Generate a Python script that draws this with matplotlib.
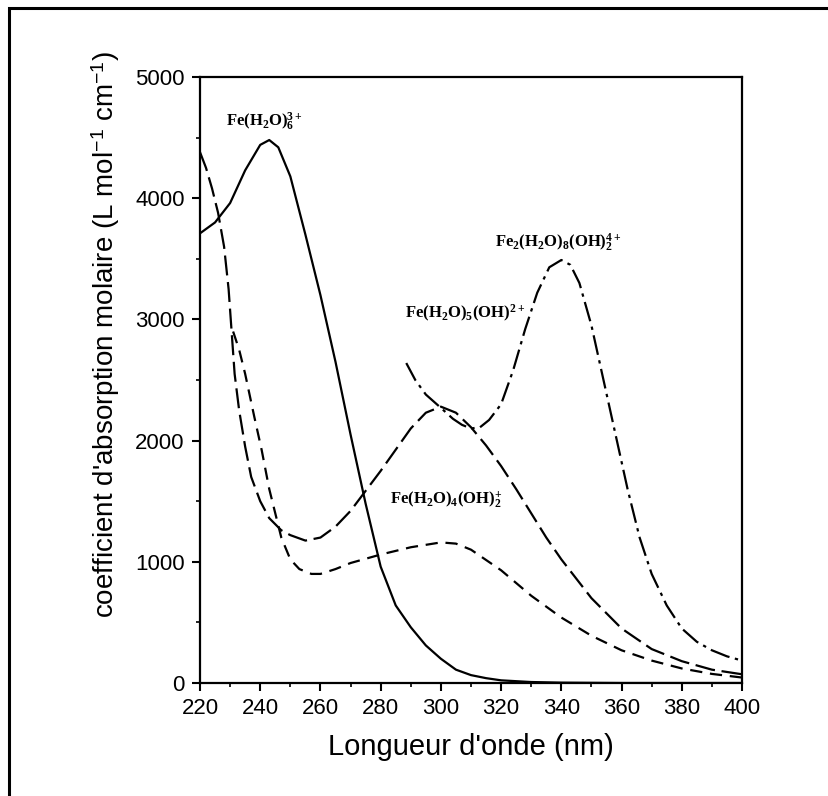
import matplotlib
matplotlib.use('Agg')
import matplotlib.pyplot as plt
from matplotlib.patches import Rectangle
import numpy as np

plt.rcParams['font.family'] = 'Liberation Sans'
plt.rcParams['mathtext.fontset'] = 'custom'
plt.rcParams['mathtext.rm'] = 'Liberation Serif:bold'
plt.rcParams['mathtext.it'] = 'Liberation Serif:bold'
plt.rcParams['mathtext.bf'] = 'Liberation Serif:bold'
plt.rcParams['mathtext.sf'] = 'Liberation Sans'

# Fe(H2O)6 3+  (solid)
wl_hexa = [220, 225, 230, 235, 240, 243, 246, 250, 255, 260, 265, 270, 275, 280,
           285, 290, 295, 300, 305, 310, 315, 320, 330, 340, 360, 400]
eps_hexa = [3710, 3800, 3960, 4230, 4440, 4480, 4420, 4180, 3700, 3200, 2650, 2050,
            1480, 960, 640, 460, 310, 200, 110, 65, 40, 22, 8, 3, 0, 0]

# Fe(H2O)5(OH) 2+  (long dash)
wl_mono = [220, 222, 224, 226, 228, 229.5, 230.5, 231.5, 233, 235, 237, 240, 243, 247,
           250, 255, 260, 265, 270, 280, 290, 295, 300, 305, 310, 315, 320, 325, 330,
           335, 340, 350, 360, 370, 380, 390, 400]
eps_mono = [4380, 4250, 4080, 3880, 3600, 3250, 2900, 2550, 2250, 1950, 1700, 1500,
            1360, 1260, 1220, 1175, 1200, 1290, 1420, 1750, 2100, 2230, 2280, 2230,
            2110, 1960, 1790, 1600, 1400, 1200, 1020, 700, 450, 280, 180, 110, 72]

# Fe(H2O)4(OH)2 +  (short dash)
wl_bis = [231, 233, 235, 238, 240.5, 243, 245, 247, 250, 253, 257, 260, 265, 270, 280,
          290, 300, 305, 310, 320, 330, 340, 350, 360, 370, 380, 390, 400]
eps_bis = [2900, 2750, 2550, 2200, 1920, 1600, 1400, 1200, 1020, 940, 900, 900, 940,
           990, 1060, 1120, 1160, 1150, 1100, 930, 720, 540, 390, 270, 185, 120, 75, 45]

# Fe2(H2O)8(OH)2 4+  (dash-dot)
wl_dim = [288.5, 290, 291.5, 295, 300, 304, 307, 310, 313, 316, 320, 324, 328, 332, 336,
          340, 343, 346, 350, 354, 358, 362, 366, 370, 375, 380, 385, 390, 395, 400]
eps_dim = [2640, 2570, 2500, 2380, 2270, 2180, 2130, 2100, 2110, 2170, 2300, 2580, 2920,
           3220, 3430, 3490, 3450, 3300, 2950, 2500, 2050, 1600, 1200, 900, 640, 450,
           340, 270, 220, 185]

fig = plt.figure(figsize=(8.29, 7.96), dpi=100)
ax = fig.add_axes([200/829, 1-683/796, 542/829, 606/796])

ax.plot(wl_hexa, eps_hexa, color='black', lw=1.6, linestyle='-')
ax.plot(wl_mono, eps_mono, color='black', lw=1.6, linestyle=(0, (9, 3)))
ax.plot(wl_bis, eps_bis, color='black', lw=1.6, linestyle=(0, (5.5, 3.5)))
ax.plot(wl_dim, eps_dim, color='black', lw=1.6, linestyle=(0, (9, 2.5, 1.5, 2.5)))

lab_kw = dict(fontsize=12, ha='left', va='baseline', color='black')
ax.text(228.6, 4590, r'$\mathrm{Fe(H_2O)_6^{3+}}$', **lab_kw)
ax.text(318.0, 3590, r'$\mathrm{Fe_2(H_2O)_8(OH)_2^{4+}}$', **lab_kw)
ax.text(288.0, 3010, r'$\mathrm{Fe(H_2O)_5(OH)^{2+}}$', **lab_kw)
ax.text(283.0, 1480, r'$\mathrm{Fe(H_2O)_4(OH)_2^{+}}$', **lab_kw)

ax.set_xlim(220, 400)
ax.set_ylim(0, 5000)
ax.set_xticks(np.arange(220, 401, 20))
ax.set_xticks(np.arange(220, 401, 10), minor=True)
ax.set_yticks(np.arange(0, 5001, 1000))
ax.set_yticks(np.arange(0, 5001, 500), minor=True)
ax.tick_params(which='major', direction='out', length=6, width=1.5, labelsize=16, pad=5)
ax.tick_params(which='minor', direction='out', length=3, width=1.2)
for s in ax.spines.values():
    s.set_linewidth(1.6)

ax.set_xlabel("Longueur d'onde (nm)", fontsize=21)
ax.xaxis.set_label_coords(0.5, -0.083)
ax.set_ylabel(r"coefficient d'absorption molaire (L mol$^{\mathsf{-1}}$ cm$^{\mathsf{-1}}$)",
              fontsize=20)
ax.yaxis.set_label_coords(-0.144, 0.575)

# outer frame of the scanned page
fig.patches.append(Rectangle((9/829, -0.2), 1.3, 1.2 - 8/796, transform=fig.transFigure,
                             fill=False, lw=2.2, ec='black'))

fig.savefig('out.png', dpi=100)
